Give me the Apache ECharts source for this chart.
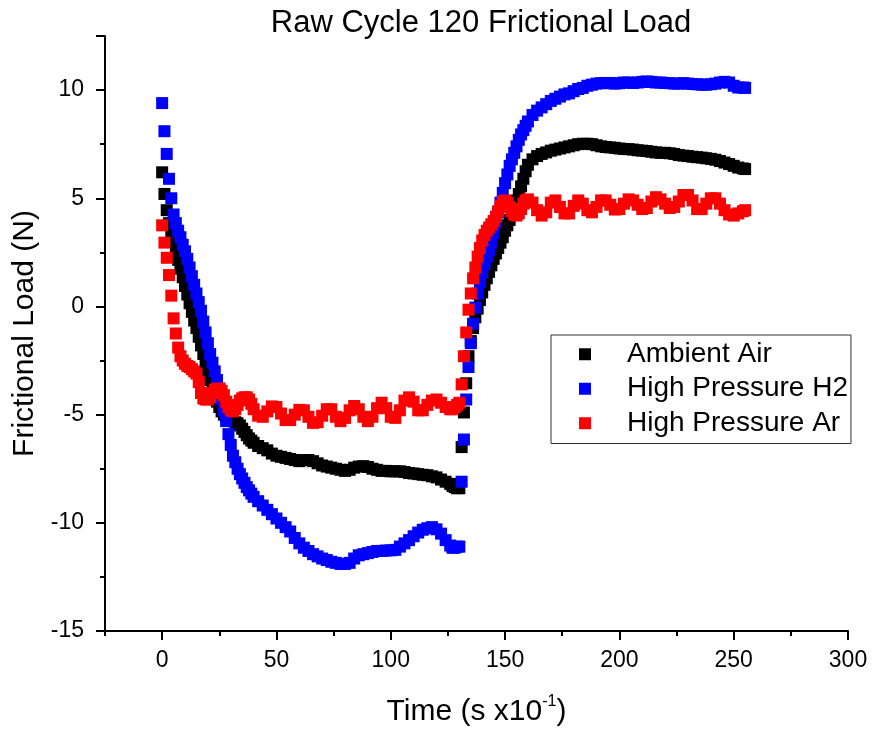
<!DOCTYPE html>
<html>
<head>
<meta charset="utf-8">
<script src="https://cdn.jsdelivr.net/npm/echarts@6/dist/echarts.min.js"></script>
<style>
html,body{margin:0;padding:0;background:#fff;}
#chart{width:872px;height:732px;}
</style>
</head>
<body>
<div id="chart"></div>
<script>
// Time (s x10^-1) sample positions
var times = [
  0,1,2,3,4,5,6,7,8,9,10,11,12,13,14,15,16,17,18,19,20,21,22,23,24,25,26,27,28,29,30,31,32,33,34,35,36,37,38,39,40,
  42,44,46,48,50,52,54,56,58,60,62,64,66,68,70,72,74,76,78,80,82,84,86,88,90,92,94,96,98,100,102,104,106,108,110,112,114,116,118,120,122,124,126,
  127,128,129,130,131,132,133,134,135,136,137,138,139,140,141,142,143,144,145,146,147,148,149,150,151,152,153,154,155,156,157,158,159,160,
  162,164,166,168,170,172,174,176,178,180,182,184,186,188,190,192,194,196,198,200,202,204,206,208,210,212,214,216,218,220,222,224,226,228,230,232,234,236,238,240,242,244,246,248,250,252,254,
  255
];

// Ambient Air frictional load (N)
var airLoad = [
  6.2,5.2,4.45,3.85,3.45,3.1,2.6,2.15,1.75,1.35,0.95,0.55,0.15,-0.25,-0.65,-1.0,-1.4,-1.8,-2.2,-2.6,-3.0,-3.4,-3.75,-4.1,-4.4,-4.65,-4.85,-5.0,-5.1,-5.2,-5.25,-5.3,-5.35,-5.4,-5.5,-5.65,-5.8,-5.95,-6.1,-6.2,-6.3,
  -6.45,-6.55,-6.65,-6.8,-6.9,-6.95,-7.0,-7.05,-7.1,-7.15,-7.1,-7.1,-7.15,-7.25,-7.35,-7.4,-7.45,-7.5,-7.55,-7.6,-7.55,-7.45,-7.4,-7.38,-7.42,-7.5,-7.55,-7.6,-7.6,-7.62,-7.62,-7.62,-7.65,-7.7,-7.72,-7.75,-7.78,-7.8,-7.85,-7.9,-8.0,-8.1,-8.2,
  -8.3,-8.35,-8.4,-8.4,-6.5,-4.9,-3.55,-2.3,-1.6,-1.0,-0.5,-0.1,0.3,0.65,1.0,1.3,1.6,1.9,2.2,2.45,2.7,2.95,3.2,3.5,3.75,4.0,4.3,4.6,4.9,5.2,5.55,5.9,6.25,6.55,
  6.8,6.95,7.05,7.12,7.2,7.25,7.3,7.35,7.4,7.45,7.5,7.52,7.52,7.5,7.45,7.4,7.37,7.35,7.33,7.3,7.28,7.27,7.25,7.22,7.2,7.18,7.15,7.12,7.1,7.1,7.08,7.05,7.0,6.97,6.95,6.92,6.9,6.88,6.85,6.82,6.78,6.72,6.65,6.58,6.5,6.42,6.38,
  6.35
];

// High Pressure H2 frictional load (N)
var h2Load = [
  9.4,8.1,7.05,5.9,5.0,4.25,3.85,3.5,3.2,2.85,2.55,2.2,1.8,1.4,1.0,0.6,0.2,-0.2,-0.7,-1.2,-1.7,-2.2,-2.6,-3.0,-3.4,-3.8,-4.3,-4.8,-5.3,-5.9,-6.4,-6.9,-7.2,-7.5,-7.75,-7.95,-8.15,-8.35,-8.5,-8.65,-8.8,
  -9.0,-9.2,-9.4,-9.6,-9.8,-10.0,-10.2,-10.4,-10.7,-10.95,-11.15,-11.3,-11.45,-11.55,-11.65,-11.72,-11.8,-11.85,-11.9,-11.9,-11.85,-11.65,-11.5,-11.45,-11.4,-11.35,-11.3,-11.3,-11.28,-11.27,-11.25,-11.1,-10.95,-10.8,-10.62,-10.45,-10.32,-10.25,-10.2,-10.3,-10.5,-10.8,-11.05,
  -11.15,-11.15,-11.1,-11.1,-8.1,-6.15,-4.3,-2.8,-1.7,-0.8,-0.05,0.6,1.1,1.55,1.95,2.3,2.6,2.95,3.4,3.9,4.35,4.8,5.25,5.7,6.1,6.5,6.8,7.1,7.4,7.7,7.95,8.15,8.35,8.55,
  8.85,9.05,9.2,9.35,9.5,9.6,9.7,9.8,9.85,9.95,10.05,10.1,10.2,10.25,10.3,10.32,10.33,10.32,10.3,10.32,10.35,10.35,10.33,10.35,10.38,10.4,10.38,10.35,10.35,10.33,10.32,10.3,10.3,10.32,10.3,10.28,10.27,10.25,10.25,10.27,10.3,10.35,10.38,10.35,10.2,10.12,10.12,
  10.1
];

// High Pressure Ar frictional load (N)
var arLoad = [
  3.75,2.95,2.25,1.45,0.5,-0.55,-1.25,-1.9,-2.3,-2.5,-2.65,-2.75,-2.8,-2.9,-3.0,-3.1,-3.5,-4.0,-4.25,-4.3,-4.3,-4.2,-4.0,-3.85,-3.8,-3.8,-3.9,-4.1,-4.4,-4.65,-4.8,-4.85,-4.75,-4.55,-4.35,-4.25,-4.2,-4.2,-4.3,-4.5,-4.75,
  -5.05,-5.1,-4.85,-4.62,-4.65,-4.95,-5.25,-5.25,-5.0,-4.78,-4.8,-5.1,-5.38,-5.35,-5.05,-4.75,-4.75,-5.1,-5.3,-5.15,-4.8,-4.6,-4.75,-5.1,-5.3,-5.1,-4.7,-4.45,-4.7,-5.1,-5.15,-4.8,-4.35,-4.2,-4.4,-4.8,-4.8,-4.55,-4.35,-4.3,-4.45,-4.65,-4.75,
  -4.75,-4.65,-4.55,-4.45,-3.6,-2.3,-1.2,-0.15,0.6,1.3,1.8,2.3,2.7,3.05,3.3,3.5,3.65,3.8,3.95,4.15,4.4,4.65,4.85,4.9,4.8,4.6,4.4,4.25,4.2,4.3,4.5,4.75,4.9,4.95,
  4.8,4.45,4.2,4.35,4.8,4.9,4.6,4.3,4.3,4.65,4.9,4.75,4.45,4.35,4.6,4.9,4.9,4.7,4.48,4.5,4.75,4.95,4.9,4.7,4.5,4.55,4.85,5.05,4.95,4.75,4.55,4.6,4.85,5.15,5.15,4.9,4.5,4.5,4.75,5.0,5.0,4.75,4.45,4.25,4.2,4.3,4.4,
  4.45
];

var seriesNames = ['Ambient Air', 'High Pressure H2', 'High Pressure Ar'];
var xMajorTicks = [0, 50, 100, 150, 200, 250, 300];
var yMajorTicks = [-15, -10, -5, 0, 5, 10];
var yMinorTicks = [-12.5, -7.5, -2.5, 2.5, 7.5];

var FONT = '"Liberation Sans", Arial, Helvetica, sans-serif';
function pairs(ys) { return times.map(function (t, i) { return [t, ys[i]]; }); }

function tickAxis(kind, values, len) {
  var ax = {
    type: 'value', offset: 0,
    axisLine: { show: false, onZero: false },
    splitLine: { show: false },
    axisTick: { show: true, length: len, lineStyle: { color: '#000000', width: 2 }, customValues: values.slice() },
    axisLabel: { show: false }
  };
  if (kind === 'x') { ax.min = -25; ax.max = 300; ax.position = 'bottom'; }
  else { ax.min = -15; ax.max = 12.5; ax.position = 'left'; }
  return ax;
}

var chart = echarts.init(document.getElementById('chart'), null, { renderer: 'canvas' });

chart.setOption({
  animation: false,
  backgroundColor: '#fff',
  title: {
    text: 'Raw Cycle 120 Frictional Load',
    left: 476, top: 3, textAlign: 'center',
    textStyle: { fontFamily: FONT, fontSize: 31, fontWeight: 'normal', color: '#000' }
  },
  grid: { left: 105, right: 24, top: 36, bottom: 100, containLabel: false },
  legend: {
    orient: 'vertical', left: 551, top: 335,
    itemWidth: 12, itemHeight: 12, itemGap: 0, icon: 'rect',
    padding: [2, 3, 3, 28],
    borderColor: '#333', borderWidth: 1,
    data: seriesNames,
    textStyle: { fontFamily: FONT, fontSize: 28, lineHeight: 34.5, color: '#000', padding: [0, 0, 0, 31] }
  },
  xAxis: [{
    type: 'value', min: -25, max: 300, interval: 25,
    axisLine: { show: true, onZero: false, lineStyle: { color: '#000', width: 2 } },
    splitLine: { show: false },
    axisTick: { show: true, length: 5, lineStyle: { color: '#000', width: 2 } },
    axisLabel: {
      margin: 18, fontFamily: FONT, fontSize: 23, color: '#000',
      formatter: function (v) { return xMajorTicks.indexOf(v) >= 0 ? String(v) : ''; }
    },
    name: '{a|Time (s x10}{b|-1}{a|)}',
    nameLocation: 'middle', nameGap: 63,
    nameTextStyle: {
      rich: {
        a: { fontFamily: FONT, fontSize: 30, color: '#000', lineHeight: 36 },
        b: { fontFamily: FONT, fontSize: 16, color: '#000', verticalAlign: 'top', lineHeight: 20 }
      }
    }
  }, tickAxis('x', xMajorTicks, 9)],
  yAxis: [{
    type: 'value', min: -15, max: 12.5, interval: 5,
    axisLine: { show: true, onZero: false, lineStyle: { color: '#000', width: 2 } },
    splitLine: { show: false },
    axisTick: { show: true, length: 9, lineStyle: { color: '#000', width: 2 } },
    axisLabel: {
      margin: 21, fontFamily: FONT, fontSize: 23, color: '#000',
      formatter: function (v) { return yMajorTicks.indexOf(v) >= 0 ? String(v) : ''; }
    },
    name: 'Frictional Load (N)',
    nameLocation: 'middle', nameGap: 62,
    nameTextStyle: { fontFamily: FONT, fontSize: 30, color: '#000' }
  }, tickAxis('y', yMinorTicks, 5)],
  series: [
    { name: seriesNames[0], type: 'scatter', symbol: 'rect', symbolSize: 12, silent: true,
      itemStyle: { color: '#000000', opacity: 1 }, data: pairs(airLoad) },
    { name: seriesNames[1], type: 'scatter', symbol: 'rect', symbolSize: 12, silent: true,
      itemStyle: { color: '#0000ff', opacity: 1 }, data: pairs(h2Load) },
    { name: seriesNames[2], type: 'scatter', symbol: 'rect', symbolSize: 12, silent: true,
      itemStyle: { color: '#ff0000', opacity: 1 }, data: pairs(arLoad) }
  ]
});
</script>
</body>
</html>
